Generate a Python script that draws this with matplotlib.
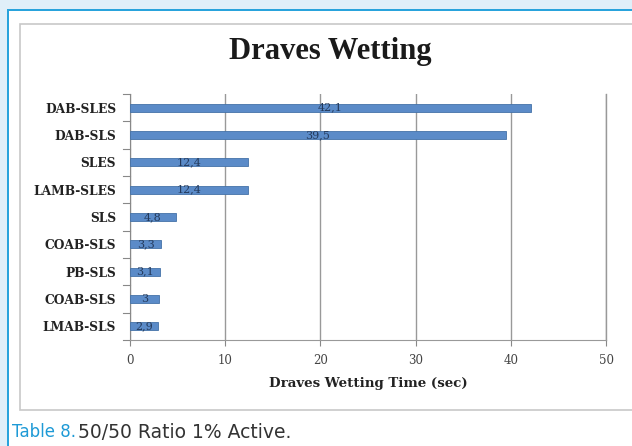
import matplotlib
matplotlib.use("Agg")
import matplotlib.pyplot as plt
from matplotlib.patches import Rectangle

categories = ["DAB-SLES", "DAB-SLS", "SLES", "LAMB-SLES", "SLS", "COAB-SLS", "PB-SLS", "COAB-SLS", "LMAB-SLS"]
values = [42.1, 39.5, 12.4, 12.4, 4.8, 3.3, 3.1, 3.0, 2.9]
value_labels = ["42,1", "39,5", "12,4", "12,4", "4,8", "3,3", "3,1", "3", "2,9"]
xticks = [0, 10, 20, 30, 40, 50]

W, H = 632, 446
fig = plt.figure(figsize=(W / 100, H / 100), dpi=100)
fig.patch.set_facecolor("white")

def add_rect(x, y, w, h, **kw):
    fig.patches.append(Rectangle((x / W, 1 - (y + h) / H), w / W, h / H,
                                 transform=fig.transFigure, **kw))

# outer light blue frame
add_rect(0, 0, W, 9, facecolor="#e0eff9", edgecolor="none", zorder=-3)
add_rect(0, 0, 7, H, facecolor="#e0eff9", edgecolor="none", zorder=-3)
# blue border lines
add_rect(7, 9, 2, H - 9, facecolor="#29a3dc", edgecolor="none", zorder=-2)
add_rect(7, 9, W - 7, 2, facecolor="#29a3dc", edgecolor="none", zorder=-2)
# inner chart box
add_rect(20, 24, 640, 386, facecolor="white", edgecolor="#c8c8c8", linewidth=1.2, zorder=-1)

ax = fig.add_axes([130 / W, 1 - 340 / H, (606 - 130) / W, (340 - 94) / H])
ax.set_zorder(5)
ax.set_facecolor("none")
n = len(categories)
ypos = list(range(n))[::-1]
ax.barh(ypos, values, height=0.3, color="#5b8bc8", edgecolor="#4472a8", linewidth=0.6, zorder=3)
for y, v, lab in zip(ypos, values, value_labels):
    ax.text(v / 2, y, lab, ha="center", va="center", fontsize=8, family="DejaVu Serif",
            color="#243a5c", zorder=4)

ax.set_xlim(0, 50)
ax.set_ylim(-0.5, n - 0.5)
ax.set_xticks(xticks)
ax.set_xticklabels([str(t) for t in xticks], family="DejaVu Serif", fontsize=8.5, color="#444444")
ax.set_yticks(ypos)
ax.set_yticklabels(categories, family="DejaVu Serif", fontweight="bold", fontsize=8.8, color="#222222")
ax.tick_params(axis="y", length=0, pad=10)
ax.tick_params(axis="x", length=4, direction="out", color="#888888", pad=6)
for yb in [i - 0.5 for i in range(n + 1)]:
    ax.plot([-0.7, 0], [yb, yb], color="#888888", lw=0.8, clip_on=False, zorder=2)
ax.grid(axis="x", color="#999999", lw=1.0, zorder=1)
ax.axvline(50, color="#999999", lw=1.0, zorder=1, clip_on=False)
for s in ["top", "right"]:
    ax.spines[s].set_visible(False)
ax.spines["left"].set_color("#888888")
ax.spines["bottom"].set_color("#999999")
ax.set_xlabel("Draves Wetting Time (sec)", family="DejaVu Serif", fontweight="bold", fontsize=9.6, labelpad=7, color="#222222")

fig.text(330 / W, 1 - 52 / H, "Draves Wetting", family="Liberation Serif", fontweight="bold", fontsize=22,
         ha="center", va="center", color="#1a1a1a")

fig.text(12 / W, 1 - 432 / H, "Table 8.", family="DejaVu Sans", fontsize=12, color="#1e9ad6",
         ha="left", va="center")
fig.text(78 / W, 1 - 432 / H, "50/50 Ratio 1% Active.", family="DejaVu Sans", fontsize=13.5, color="#333333",
         ha="left", va="center")

fig.savefig("out.png", dpi=100)
